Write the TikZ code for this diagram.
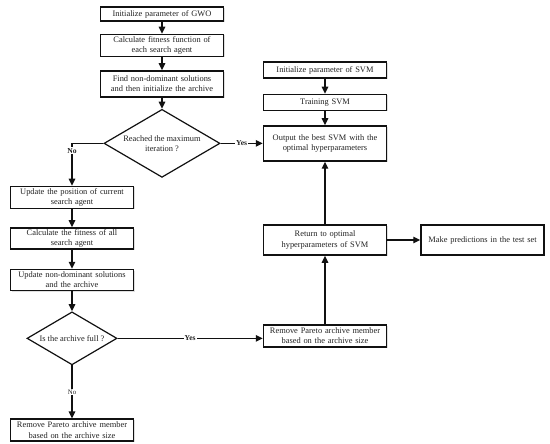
\documentclass[tikz,border=0pt]{standalone}
\usepackage{fontspec}
\setmainfont{Liberation Serif}
\usepackage{tikz}
\usetikzlibrary{arrows.meta,positioning,shapes.geometric,shadows}
\definecolor{fline}{HTML}{111111}
\definecolor{ftext}{HTML}{222222}
\tikzset{
  box/.style={draw=fline,fill=white,line width=1.5pt,align=center,text=ftext,font=\fontsize{8.4}{10.2}\selectfont,inner sep=1pt,minimum width=123pt,text width=119pt,drop shadow={shadow xshift=1pt,shadow yshift=-1pt,opacity=0.25}},
  dec/.style={diamond,draw=fline,fill=white,line width=1.2pt,align=center,text=ftext,font=\fontsize{8.4}{10.2}\selectfont,inner sep=0pt,aspect=1.7},
  arr/.style={-{Triangle[length=7pt,width=6.5pt]},line width=1.4pt,draw=fline},
  lbl/.style={font=\fontsize{7.6}{8}\selectfont\bfseries,text=ftext,fill=white,inner sep=1pt},
  lbls/.style={font=\fontsize{6.8}{8}\selectfont,text=ftext,fill=white,inner sep=1pt},
}
\begin{document}
\begin{tikzpicture}[x=1pt,y=-1pt]
  \useasboundingbox (0,0) rectangle (550,444);
  % GWO part
  \node[box,minimum height=14pt] (gwo) at (162,14) {Initialize parameter of GWO};
  \node[box,minimum height=22pt,below=12pt of gwo] (fit) {Calculate fitness function of\\ each search agent};
  \node[box,minimum height=26pt,below=13pt of fit] (nondom) {Find non-dominant solutions\\ and then initialize the archive};
  \node[dec,minimum width=116pt,minimum height=68pt,below=11pt of nondom] (iter) {Reached the maximum\\ iteration ?};
  \node[box,minimum height=22pt] (upd) at (72,197.5) {Update the position of current\\ search agent};
  \node[box,minimum height=21pt,below=18pt of upd] (fitall) {Calculate the fitness of all\\ search agent};
  \node[box,minimum height=21pt,below=19pt of fitall] (updarch) {Update non-dominant solutions\\ and the archive};
  \node[dec,minimum width=90pt,minimum height=53pt,below=20pt of updarch] (full) {Is the archive full ?};
  \node[box,minimum height=22pt,below=53pt of full] (remL) {Remove Pareto archive member\\ based on the archive size};
  % SVM part
  \node[box,minimum height=16pt] (svm) at (325,70) {Initialize parameter of SVM};
  \node[box,minimum height=16pt,below=15pt of svm] (train) {Training SVM};
  \node[box,minimum height=35pt,below=14pt of train] (best) {Output the best SVM with the\\ optimal hyperparameters};
  \node[box,minimum height=30pt] (ret) at (325,240) {Return to optimal\\ hyperparameters of SVM};
  \node[box,minimum height=30pt,right=33pt of ret] (pred) {Make predictions in the test set};
  \node[box,minimum height=22pt] (remR) at (325,336) {Remove Pareto archive member\\ based on the archive size};
  % connectors
  \draw[arr] (gwo) -- (fit);
  \draw[arr] (fit) -- (nondom);
  \draw[arr] (nondom) -- (iter);
  \draw[arr] (iter.east) -- node[lbl] {Yes} (best.west |- iter.east);
  \draw[arr] (iter.west) -| node[lbl,pos=0.585] {No} (upd.north);
  \draw[arr] (upd) -- (fitall);
  \draw[arr] (fitall) -- (updarch);
  \draw[arr] (updarch) -- (full);
  \draw[arr] (full.east) -- node[lbl] {Yes} (remR.west |- full.east);
  \draw[arr] (full) -- node[lbls] {No} (remL);
  \draw[arr] (svm) -- (train);
  \draw[arr] (train) -- (best);
  \draw[arr] (ret) -- (best);
  \draw[arr] (remR) -- (ret);
  \draw[arr] (ret) -- (pred);
\end{tikzpicture}
\end{document}
